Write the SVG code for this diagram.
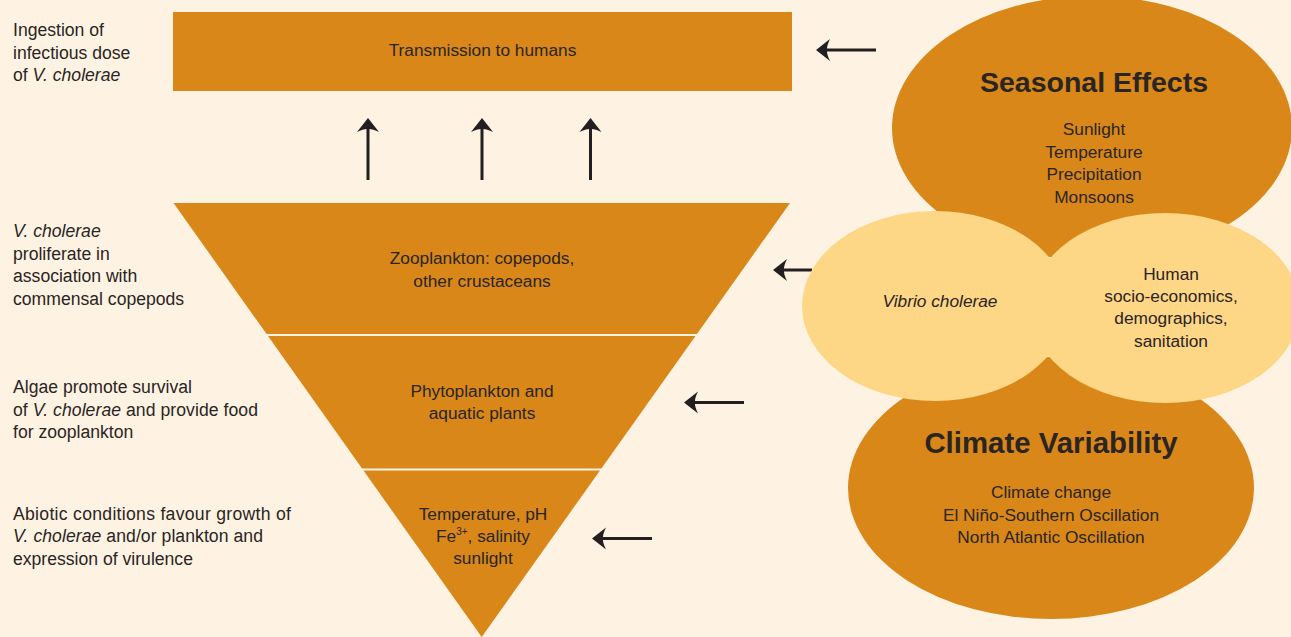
<svg xmlns="http://www.w3.org/2000/svg" width="1291" height="637" viewBox="0 0 1291 637">
<defs>
<style>
.t{font-family:"Liberation Sans",Arial,sans-serif;font-size:17.3px;fill:#2a2523}
.l{font-size:17.6px}
.c{text-anchor:middle}
.h{font-family:"Liberation Sans",Arial,sans-serif;font-size:28.5px;font-weight:bold;fill:#2a2523;text-anchor:middle}
.h2{font-size:29.4px}
.i{font-style:italic}
.or{fill:#d88718}
.ye{fill:#fdd686}
.ar{stroke:#231f20;stroke-width:3;fill:none;marker-end:url(#ah)}
.dv{stroke:#fef3e3;stroke-width:2}
</style>
<marker id="ah" viewBox="0 0 16 24" markerWidth="16" markerHeight="24" refX="5" refY="12" orient="auto" markerUnits="userSpaceOnUse">
<path d="M16,12 L2,1 Q5.5,8 5,12 Q5.5,16 2,23 Z" fill="#231f20"/>
</marker>
</defs>
<rect width="1291" height="637" fill="#fef3e3"/>

<g id="transmission">
<rect class="or" x="173" y="12" width="619" height="79"/>
<text class="t c" x="482.5" y="56">Transmission to humans</text>
</g>

<g id="pyramid">
<polygon class="or" points="173.5,203 790,203 481.7,637"/>
<line class="dv" x1="260" y1="335" x2="705" y2="335"/>
<line class="dv" x1="355" y1="469.5" x2="610" y2="469.5"/>
</g>

<g id="zooplankton">
<text class="t c" x="482" y="264">Zooplankton: copepods,</text>
<text class="t c" x="482" y="286.5">other crustaceans</text>
</g>
<g id="phytoplankton">
<text class="t c" x="482" y="396.7">Phytoplankton and</text>
<text class="t c" x="482" y="419.3">aquatic plants</text>
</g>
<g id="abiotic">
<text class="t c" x="483" y="520">Temperature, pH</text>
<text class="t c" x="483" y="541.7">Fe<tspan font-size="10" dy="-6.5">3+</tspan><tspan dy="6.5">, salinity</tspan></text>
<text class="t c" x="483" y="564">sunlight</text>
</g>

<g id="labels-left">
<text class="t l" x="13" y="36">Ingestion of</text>
<text class="t l" x="13" y="58.5">infectious dose</text>
<text class="t l" x="13" y="81">of <tspan class="i">V. cholerae</tspan></text>
<text class="t l i" x="13" y="237.3">V. cholerae</text>
<text class="t l" x="13" y="259.7">proliferate in</text>
<text class="t l" x="13" y="282.3">association with</text>
<text class="t l" x="13" y="304.8">commensal copepods</text>
<text class="t l" x="13" y="393.3">Algae promote survival</text>
<text class="t l" x="13" y="415.6" textLength="245" lengthAdjust="spacing">of <tspan class="i">V. cholerae</tspan> and provide food</text>
<text class="t l" x="13" y="437.9">for zooplankton</text>
<text class="t l" x="13" y="520" textLength="278" lengthAdjust="spacing">Abiotic conditions favour growth of</text>
<text class="t l" x="13" y="542.3" textLength="250" lengthAdjust="spacing"><tspan class="i">V. cholerae</tspan> and/or plankton and</text>
<text class="t l" x="13" y="564.6">expression of virulence</text>
</g>

<g id="connectors">
<line class="ar" x1="368" y1="180" x2="368" y2="129"/>
<line class="ar" x1="482" y1="180" x2="482" y2="129"/>
<line class="ar" x1="590.5" y1="180" x2="590.5" y2="129"/>
<line class="ar" x1="876" y1="50" x2="827" y2="50"/>
<line class="ar" x1="812" y1="270" x2="784" y2="270"/>
<line class="ar" x1="744" y1="402.5" x2="695" y2="402.5"/>
<line class="ar" x1="652" y1="538.5" x2="603" y2="538.5"/>
</g>

<g id="seasonal">
<ellipse class="or" cx="1092" cy="128" rx="200" ry="132"/>
<text class="h" x="1094" y="91.7">Seasonal Effects</text>
<text class="t c" x="1094" y="135">Sunlight</text>
<text class="t c" x="1094" y="157.7">Temperature</text>
<text class="t c" x="1094" y="180.2">Precipitation</text>
<text class="t c" x="1094" y="203">Monsoons</text>
</g>

<g id="climate">
<ellipse class="or" cx="1051" cy="488" rx="203" ry="131"/>
<text class="h h2" x="1051" y="453.3">Climate Variability</text>
<text class="t c" x="1051" y="498.3">Climate change</text>
<text class="t c" x="1051" y="520.7">El Niño-Southern Oscillation</text>
<text class="t c" x="1051" y="543.3">North Atlantic Oscillation</text>
</g>

<g id="vibrio">
<ellipse class="ye" cx="935" cy="306" rx="133" ry="95"/>
<text class="t c i" x="940" y="307.3">Vibrio cholerae</text>
</g>

<g id="human">
<ellipse class="ye" cx="1165" cy="308" rx="135" ry="95"/>
<text class="t c" x="1171" y="280">Human</text>
<text class="t c" x="1171" y="301.7">socio-economics,</text>
<text class="t c" x="1171" y="323.5">demographics,</text>
<text class="t c" x="1171" y="346.7">sanitation</text>
</g>
</svg>
